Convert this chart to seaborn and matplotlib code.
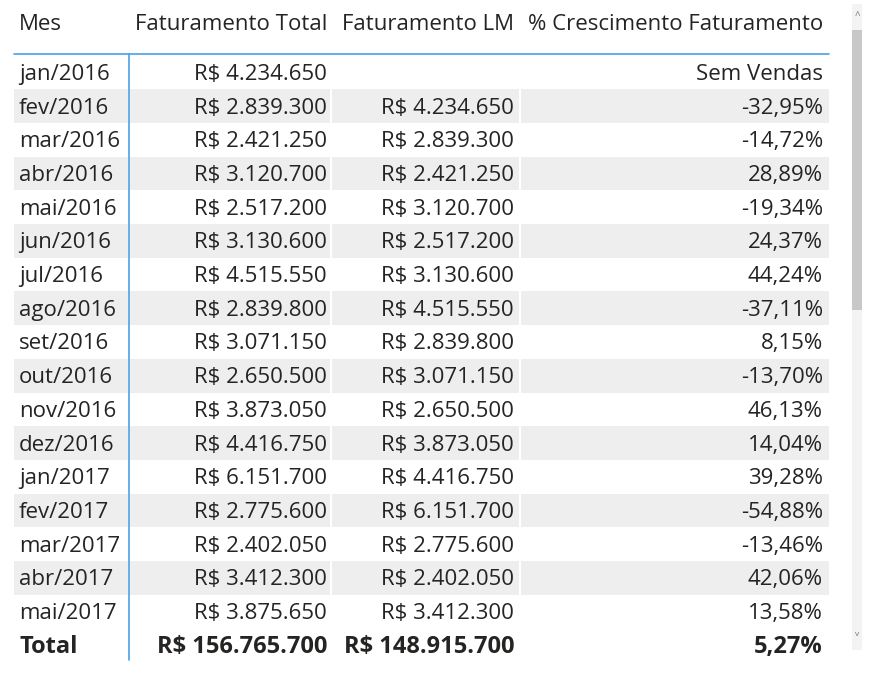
import matplotlib
matplotlib.use("Agg")
import matplotlib.pyplot as plt
import seaborn as sns

sns.set_theme(style="white")
plt.rcParams['font.family'] = ['Open Sans', 'DejaVu Sans']

colunas = ["Mes", "Faturamento Total", "Faturamento LM", "% Crescimento Faturamento"]
meses = ["jan/2016", "fev/2016", "mar/2016", "abr/2016", "mai/2016", "jun/2016",
         "jul/2016", "ago/2016", "set/2016", "out/2016", "nov/2016", "dez/2016",
         "jan/2017", "fev/2017", "mar/2017", "abr/2017", "mai/2017"]
fat_total = ["R$ 4.234.650", "R$ 2.839.300", "R$ 2.421.250", "R$ 3.120.700",
             "R$ 2.517.200", "R$ 3.130.600", "R$ 4.515.550", "R$ 2.839.800",
             "R$ 3.071.150", "R$ 2.650.500", "R$ 3.873.050", "R$ 4.416.750",
             "R$ 6.151.700", "R$ 2.775.600", "R$ 2.402.050", "R$ 3.412.300",
             "R$ 3.875.650"]
fat_lm = ["", "R$ 4.234.650", "R$ 2.839.300", "R$ 2.421.250", "R$ 3.120.700",
          "R$ 2.517.200", "R$ 3.130.600", "R$ 4.515.550", "R$ 2.839.800",
          "R$ 3.071.150", "R$ 2.650.500", "R$ 3.873.050", "R$ 4.416.750",
          "R$ 6.151.700", "R$ 2.775.600", "R$ 2.402.050", "R$ 3.412.300"]
crescimento = ["Sem Vendas", "-32,95%", "-14,72%", "28,89%", "-19,34%", "24,37%",
               "44,24%", "-37,11%", "8,15%", "-13,70%", "46,13%", "14,04%",
               "39,28%", "-54,88%", "-13,46%", "42,06%", "13,58%"]
totais = ["Total", "R$ 156.765.700", "R$ 148.915.700", "5,27%"]

txt = "#252423"
blue = "#4a9fe8"
band = "#eeeeee"

# layout in pixels
col_left = [14, 129, 331, 520]
col_right = [128, 330, 519, 829]
row_h = 33.7
first_top = 55.5

fig = plt.figure(figsize=(8.76, 6.81), dpi=100)
ax = fig.add_axes([0, 0, 1, 1])
ax.set_xlim(0, 876)
ax.set_ylim(681, 0)
ax.axis("off")

fs = 16
n = len(meses)
for i in range(n):
    top = first_top + i * row_h
    yc = top + row_h / 2
    if i % 2 == 1:
        for c in range(4):
            ax.barh(yc, col_right[c] - col_left[c] - (0 if c == 0 else 1), left=col_left[c] + (0 if c == 0 else 1),
                    height=row_h, color=band, linewidth=0)
    row = [meses[i], fat_total[i], fat_lm[i], crescimento[i]]
    ax.text(19, yc + 2, row[0], ha="left", va="center", fontsize=fs, color=txt)
    for c, r in zip([1, 2, 3], [327, 514, 823]):
        ax.text(r, yc + 2, row[c], ha="right", va="center", fontsize=fs, color=txt)

# total row
yt = first_top + n * row_h + row_h / 2
ax.text(19, yt + 2, totais[0], ha="left", va="center", fontsize=fs + 1, color=txt, fontweight="bold")
for c, r in zip([1, 2, 3], [327, 514, 823]):
    ax.text(r, yt + 2, totais[c], ha="right", va="center", fontsize=fs + 1, color=txt, fontweight="bold")

# header
ax.text(19, 24, colunas[0], ha="left", va="center", fontsize=fs, color=txt)
for c, r in zip([1, 2, 3], [327, 514, 823]):
    ax.text(r, 24, colunas[c], ha="right", va="center", fontsize=fs, color=txt)

ax.plot([14, 829], [53.5, 53.5], color=blue, lw=1.2)
ax.plot([128.5, 128.5], [53.5, 660], color=blue, lw=1.2)

# scrollbar
ax.barh(327, 10, left=852, height=646, color="#f3f3f3", linewidth=0)
ax.barh(170, 10, left=852, height=280, color="#c8c8c8", linewidth=0)
ax.text(857, 16, "^", ha="center", va="center", fontsize=7, color="#777777")
ax.text(857, 635, "v", ha="center", va="center", fontsize=6, color="#777777")

fig.savefig("out.png", dpi=100)
